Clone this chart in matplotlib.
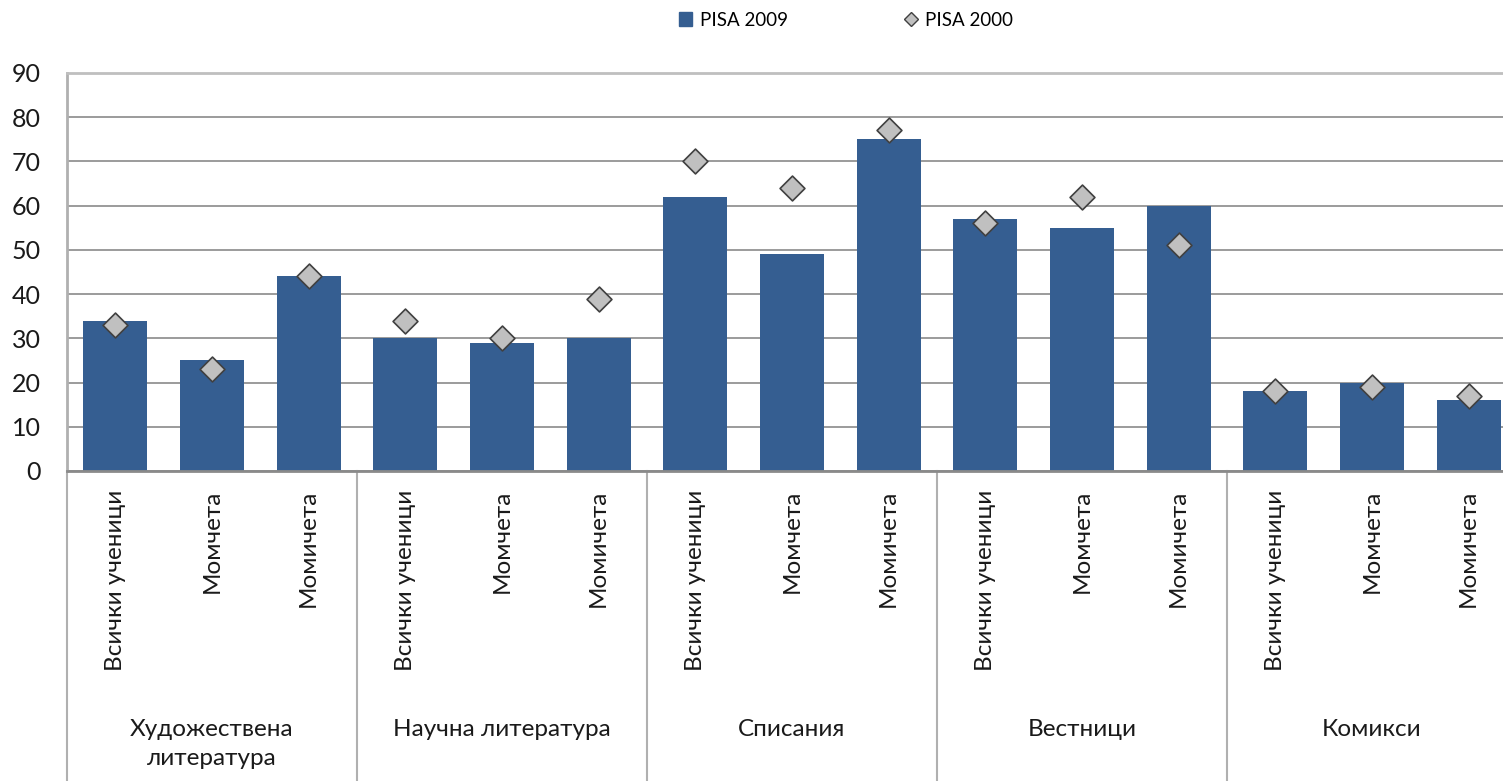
import matplotlib.pyplot as plt
from matplotlib.lines import Line2D
from matplotlib.patches import Patch
import matplotlib.transforms as mtransforms

plt.rcParams['font.family'] = ['Lato', 'DejaVu Sans']

# Data
groups = ["Художествена\nлитература", "Научна литература", "Списания", "Вестници", "Комикси"]
subgroups = ["Всички ученици", "Момчета", "Момичета"]
pisa_2009 = [34, 25, 44, 30, 29, 30, 62, 49, 75, 57, 55, 60, 18, 20, 16]
pisa_2000 = [33, 23, 44, 34, 30, 39, 70, 64, 77, 56, 62, 51, 18, 19, 17]
yticks = [0, 10, 20, 30, 40, 50, 60, 70, 80, 90]

W, H = 1503, 781
fig = plt.figure(figsize=(W / 100, H / 100), dpi=100)
# plot area runs a bit past the right edge of the picture, as in the original
ax = fig.add_axes([67 / W, 1 - 471 / H, 1450 / W, (471 - 73) / H])

x = list(range(len(pisa_2009)))
ax.bar(x, pisa_2009, width=0.66, color='#355E91', zorder=2)
ax.scatter(x, pisa_2000, marker='D', s=160, color='#C0C0C0', edgecolor='#404040',
           linewidth=1.2, zorder=3)

ax.set_xlim(-0.5, len(x) - 0.5)
ax.set_ylim(0, 90)
ax.set_yticks(yticks)
ax.tick_params(axis='y', labelsize=18, length=0, pad=19, labelcolor='#1a1a1a')
ax.set_xticks([])
ax.grid(axis='y', color='#8A8A8A', linewidth=1.2, zorder=0)
ax.spines['right'].set_visible(False)
ax.spines['top'].set_color('#BFBFBF')
ax.spines['top'].set_linewidth(2)
ax.spines['left'].set_color('#B0B0B0')
ax.spines['left'].set_linewidth(2)
ax.spines['bottom'].set_color('#8A8A8A')
ax.spines['bottom'].set_linewidth(2)

# category labels below axis
trans = mtransforms.blended_transform_factory(ax.transData, ax.transAxes)
ax_h = 471 - 73
for i in x:
    ax.text(i, -19 / ax_h, subgroups[i % 3], rotation=90, ha='center', va='top',
            fontsize=17.5, color='#1a1a1a', transform=trans)

for g, name in enumerate(groups):
    ax.text(g * 3 + 1, -248 / ax_h, name, ha='center', va='top', fontsize=17.5,
            color='#1a1a1a', linespacing=1.45, transform=trans)

for g in range(len(groups) + 1):
    ax.add_line(Line2D([g * 3 - 0.5, g * 3 - 0.5], [0, -310 / ax_h], transform=trans,
                       color='#B0B0B0', linewidth=1.5, clip_on=False))

handles = [Patch(color='#355E91', label='PISA 2009'),
           Line2D([], [], marker='D', linestyle='none', markersize=7,
                  markerfacecolor='#C0C0C0', markeredgecolor='#404040', label='PISA 2000')]
fig.legend(handles=handles, loc='center', bbox_to_anchor=(846 / W, 1 - 20 / H), ncol=2,
           frameon=False, fontsize=13.5, columnspacing=6.2, handlelength=0.7, handletextpad=0.4)

fig.savefig('out.png', dpi=100)
